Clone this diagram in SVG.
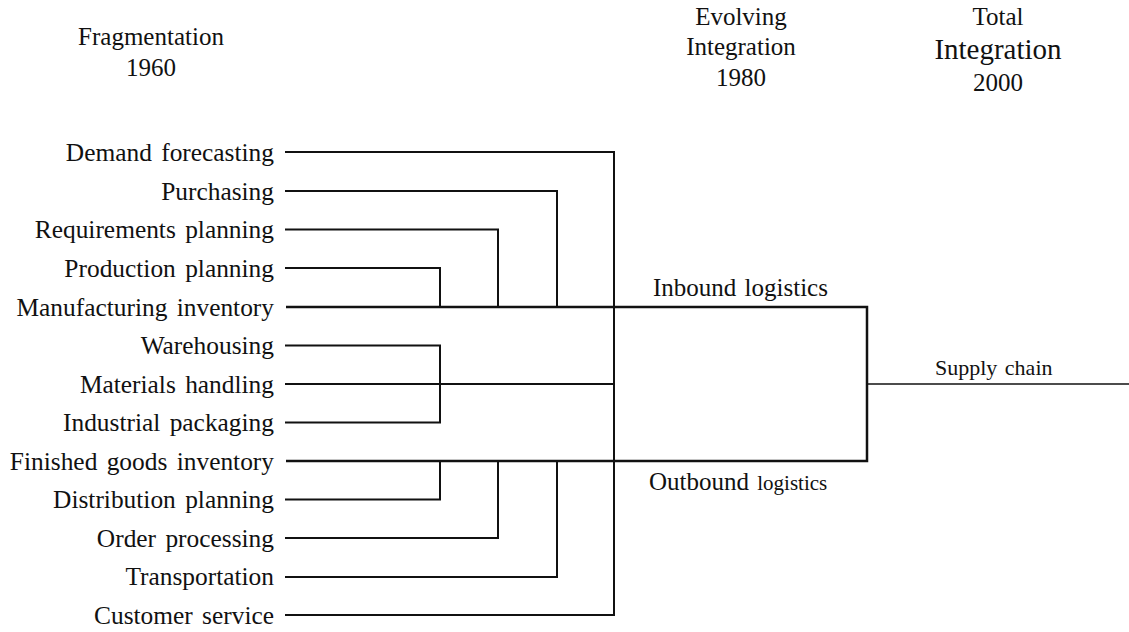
<svg xmlns="http://www.w3.org/2000/svg" width="1129" height="632" viewBox="0 0 1129 632">
  <style>
    text { font-family: "Liberation Serif", "Times New Roman", serif; fill: #111; }
    .hd { font-size: 25px; text-anchor: middle; }
    .hd-big { font-size: 29px; text-anchor: middle; }
    .lbl { font-size: 25.4px; text-anchor: end; word-spacing: 3px; }
    .stage { font-size: 25px; word-spacing: 2px; }
    .small { font-size: 21px; }
    .ln { stroke: #111; stroke-width: 2; fill: none; stroke-linecap: square; }
    .main { stroke: #111; stroke-width: 2.5; fill: none; }
    .thin { stroke: #111; stroke-width: 1.6; fill: none; }
  </style>
  <rect width="1129" height="632" fill="#ffffff"/>

  <!-- era headings -->
  <g id="era-1960">
    <text class="hd" x="151" y="45">Fragmentation</text>
    <text class="hd" x="151" y="76">1960</text>
  </g>
  <g id="era-1980">
    <text class="hd" x="741" y="25">Evolving</text>
    <text class="hd" x="741" y="55">Integration</text>
    <text class="hd" x="741" y="86">1980</text>
  </g>
  <g id="era-2000">
    <text class="hd" x="998" y="25">Total</text>
    <text class="hd-big" x="998" y="59">Integration</text>
    <text class="hd" x="998" y="91">2000</text>
  </g>

  <!-- individual activities -->
  <g id="demand-forecasting"><text class="lbl" x="274" y="161">Demand forecasting</text></g>
  <g id="purchasing"><text class="lbl" x="274" y="200">Purchasing</text></g>
  <g id="requirements-planning"><text class="lbl" x="274" y="238">Requirements planning</text></g>
  <g id="production-planning"><text class="lbl" x="274" y="277">Production planning</text></g>
  <g id="manufacturing-inventory"><text class="lbl" x="274" y="316">Manufacturing inventory</text></g>
  <g id="warehousing"><text class="lbl" x="274" y="354">Warehousing</text></g>
  <g id="materials-handling"><text class="lbl" x="274" y="393">Materials handling</text></g>
  <g id="industrial-packaging"><text class="lbl" x="274" y="431">Industrial packaging</text></g>
  <g id="finished-goods-inventory"><text class="lbl" x="274" y="470">Finished goods inventory</text></g>
  <g id="distribution-planning"><text class="lbl" x="274" y="508">Distribution planning</text></g>
  <g id="order-processing"><text class="lbl" x="274" y="547">Order processing</text></g>
  <g id="transportation"><text class="lbl" x="274" y="585">Transportation</text></g>
  <g id="customer-service"><text class="lbl" x="274" y="624">Customer service</text></g>

  <!-- integrated functions -->
  <g id="inbound-logistics"><text class="stage" x="653" y="296">Inbound logistics</text></g>
  <g id="outbound-logistics"><text class="stage" x="649" y="490">Outbound <tspan class="small">logistics</tspan></text></g>
  <g id="supply-chain"><text x="935" y="375" style="font-size:22px; word-spacing:2px">Supply chain</text></g>

  <!-- connectors -->
  <g id="connectors">
    <!-- outer bracket: demand forecasting to customer service -->
    <path class="ln" d="M286 152 H614 V615 H286"/>
    <!-- purchasing / transportation -->
    <path class="ln" d="M286 191 H557 V307"/>
    <path class="ln" d="M557 461 V577 H286"/>
    <!-- requirements planning / order processing -->
    <path class="ln" d="M286 229.5 H498 V307"/>
    <path class="ln" d="M498 461 V538 H286"/>
    <!-- production planning / distribution planning -->
    <path class="ln" d="M286 268 H440 V307"/>
    <path class="ln" d="M440 461 V499.5 H286"/>
    <!-- warehousing and packaging bracket -->
    <path class="ln" d="M286 345.5 H440 V422.5 H286"/>
    <!-- materials handling -->
    <path class="ln" d="M286 384 H614"/>
    <!-- inbound and outbound logistics -->
    <path class="main" d="M286 307 H867 V461 H286"/>
    <!-- supply chain -->
    <path class="thin" d="M867 384 H1129"/>
  </g>
</svg>
